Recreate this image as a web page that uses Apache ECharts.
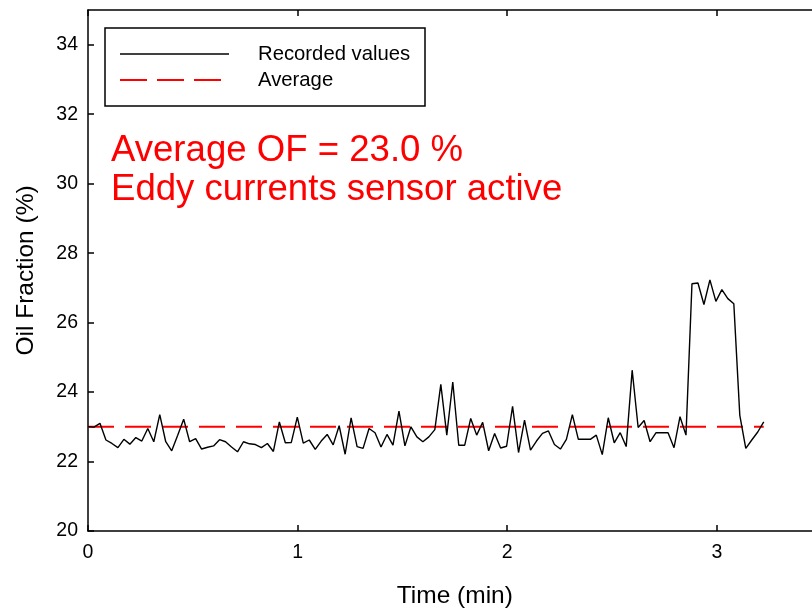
<!DOCTYPE html>
<html>
<head>
<meta charset="utf-8">
<title>Oil Fraction</title>
<script src="https://cdn.jsdelivr.net/npm/echarts@6/dist/echarts.min.js"></script>
<style>
  html, body { margin: 0; padding: 0; background: #ffffff; }
  #chart { width: 812px; height: 609px; }
</style>
</head>
<body>
<div id="chart"></div>
<script>
// Oil fraction log, one sample about every 1.7 s
const sampleStepMin = 0.02853;
const oilFraction = [
  23.00, 22.99, 23.10, 22.62, 22.52, 22.40, 22.64, 22.50, 22.69, 22.59,
  22.95, 22.57, 23.35, 22.57, 22.31, 22.76, 23.22, 22.57, 22.66, 22.36,
  22.41, 22.45, 22.63, 22.57, 22.42, 22.28, 22.57, 22.51, 22.49, 22.40,
  22.52, 22.29, 23.14, 22.54, 22.55, 23.28, 22.53, 22.62, 22.35, 22.59,
  22.78, 22.48, 23.03, 22.21, 23.26, 22.43, 22.38, 22.95, 22.83, 22.42,
  22.78, 22.47, 23.45, 22.45, 23.00, 22.71, 22.57, 22.71, 22.92, 24.22,
  22.76, 24.29, 22.47, 22.47, 23.24, 22.76, 23.13, 22.31, 22.81, 22.39,
  22.44, 23.59, 22.26, 23.19, 22.33, 22.59, 22.81, 22.88, 22.49, 22.36,
  22.64, 23.35, 22.64, 22.64, 22.64, 22.76, 22.20, 23.26, 22.54, 22.83,
  22.43, 24.63, 22.98, 23.18, 22.57, 22.83, 22.83, 22.83, 22.40, 23.29,
  22.76, 27.12, 27.14, 26.52, 27.23, 26.61, 26.95, 26.69, 26.54, 23.33,
  22.38, 22.62, 22.85, 23.14
];
const averageOF = 23.0;

const xTicks = [0, 1, 2, 3];
const yTicks = [20, 22, 24, 26, 28, 30, 32, 34];
const xRange = [0, 3.5];
const yRange = [20, 35];

const seriesNames = ['Recorded values', 'Average'];
const noteLines = [
  'Average OF = ' + averageOF.toFixed(1) + ' %',
  'Eddy currents sensor active'
];

const timesMin = oilFraction.map((_, i) => +(i * sampleStepMin).toFixed(5));
const recorded = timesMin.map((t, i) => [t, oilFraction[i]]);
const averageLine = [
  [timesMin[0], averageOF],
  [timesMin[timesMin.length - 1], averageOF]
];

const FONT = '"Liberation Sans", Arial, Helvetica, sans-serif';
const AXIS_COLOR = '#000000';

// only the listed tick values get a label
const onList = list => v => (list.indexOf(+(+v).toFixed(6)) >= 0 ? String(+v) : '');

const chart = echarts.init(document.getElementById('chart'), null, { renderer: 'canvas' });

const baseX = {
  type: 'value',
  min: xRange[0],
  max: xRange[1],
  interval: 1,
  splitLine: { show: false },
  axisLine: { show: true, onZero: false, lineStyle: { color: AXIS_COLOR, width: 1.5 } },
  axisTick: { show: true, inside: true, length: 6, customValues: xTicks, lineStyle: { color: AXIS_COLOR, width: 1.5 } }
};

chart.setOption({
  animation: false,
  backgroundColor: '#ffffff',
  textStyle: { fontFamily: FONT },
  // the frame runs on a little past the right edge of the page
  grid: { left: 88, top: 10, width: 733.6, height: 521, containLabel: false, outerBoundsMode: 'none' },
  xAxis: [
    Object.assign({}, baseX, {
      position: 'bottom',
      name: 'Time (min)',
      nameLocation: 'middle',
      nameGap: 53,
      nameTextStyle: { fontFamily: FONT, fontSize: 24.5, color: '#000' },
      axisLabel: {
        show: true, margin: 12, fontFamily: FONT, fontSize: 19.5, color: '#000',
        customValues: xTicks, formatter: onList(xTicks)
      }
    }),
    Object.assign({}, baseX, {
      position: 'top',
      axisLabel: { show: false }
    })
  ],
  yAxis: {
    type: 'value',
    min: yRange[0],
    max: yRange[1],
    interval: 2,
    name: 'Oil Fraction (%)',
    nameLocation: 'middle',
    nameGap: 49,
    nameTextStyle: { fontFamily: FONT, fontSize: 24.5, color: '#000' },
    splitLine: { show: false },
    axisLine: { show: true, onZero: false, lineStyle: { color: AXIS_COLOR, width: 1.5 } },
    axisTick: { show: true, inside: true, length: 6, customValues: yTicks, lineStyle: { color: AXIS_COLOR, width: 1.5 } },
    axisLabel: {
      margin: 10, fontFamily: FONT, fontSize: 19.5, color: '#000',
      customValues: yTicks, formatter: onList(yTicks)
    }
  },
  series: [
    {
      name: seriesNames[1],
      type: 'line',
      data: averageLine,
      showSymbol: false,
      silent: true,
      z: 2,
      lineStyle: { color: '#ff0000', width: 2, type: [26, 11] }
    },
    {
      name: seriesNames[0],
      type: 'line',
      data: recorded,
      showSymbol: false,
      silent: true,
      z: 3,
      lineStyle: { color: '#000000', width: 1.4 }
    }
  ],
  graphic: [
    {
      type: 'group',
      z: 10,
      children: [
        { type: 'rect', shape: { x: 105, y: 28, width: 320, height: 78 },
          style: { fill: '#ffffff', stroke: '#000000', lineWidth: 1.5 } },
        { type: 'line', shape: { x1: 120, y1: 54, x2: 229, y2: 54 },
          style: { stroke: '#000000', lineWidth: 1.4 } },
        { type: 'line', shape: { x1: 120, y1: 80, x2: 221, y2: 80 },
          style: { stroke: '#ff0000', lineWidth: 2, lineDash: [27, 10] } },
        { type: 'text', x: 258, y: 54,
          style: { text: seriesNames[0], font: '20.3px ' + FONT, fill: '#000', verticalAlign: 'middle' } },
        { type: 'text', x: 258, y: 80,
          style: { text: seriesNames[1], font: '20.3px ' + FONT, fill: '#000', verticalAlign: 'middle' } }
      ]
    },
    { type: 'text', x: 111, y: 151, z: 10,
      style: { text: noteLines[0], font: '36.6px ' + FONT, fill: '#ff0000', verticalAlign: 'middle' } },
    { type: 'text', x: 111, y: 190, z: 10,
      style: { text: noteLines[1], font: '36.6px ' + FONT, fill: '#ff0000', verticalAlign: 'middle' } }
  ]
});
</script>
</body>
</html>
